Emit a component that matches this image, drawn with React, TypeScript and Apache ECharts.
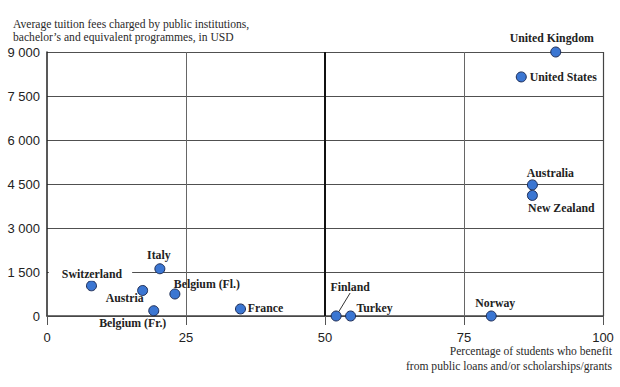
import React, { useEffect, useRef } from "react";
import * as echarts from "echarts";

const countries = [
  "United Kingdom", "United States", "Australia", "New Zealand", "Italy",
  "Switzerland", "Austria", "Belgium (Fl.)", "Belgium (Fr.)", "France",
  "Finland", "Turkey", "Norway",
];
const sharePct = [91.5, 85.3, 87.3, 87.3, 20.3, 8.0, 17.2, 23.0, 19.2, 34.8, 52.0, 54.6, 79.9];
const feesUsd = [9000, 8150, 4470, 4110, 1610, 1030, 870, 750, 180, 240, 0, 0, 0];
const xTicks = [0, 25, 50, 75, 100];
const yTicks = [0, 1500, 3000, 4500, 6000, 7500, 9000];
const titleLines = [
  "Average tuition fees charged by public institutions,",
  "bachelor\u2019s and equivalent programmes, in USD",
];
const xTitleLines = [
  "Percentage of students who benefit",
  "from public loans and/or scholarships/grants",
];

// label offsets (relative to point centre), layout only
const labelOffsets: Record<string, [number, number]> = {
  "United Kingdom": [-4, -14],
  "United States": [42, 0],
  "Australia": [18, -12],
  "New Zealand": [29, 13],
  "Italy": [-1, -14],
  "Switzerland": [-1, -12],
  "Austria": [-18, 8],
  "Belgium (Fl.)": [32, -10],
  "Belgium (Fr.)": [-21, 12],
  "France": [25, -1],
  "Finland": [14, -29],
  "Turkey": [24, -8],
  "Norway": [4, -13],
};

const fmt = (v: number) => {
  const s = String(Math.round(v));
  return s.replace(/\B(?=(\d{3})+(?!\d))/g, " ");
};

export default function App() {
  const ref = useRef<HTMLDivElement>(null);
  useEffect(() => {
    document.body.style.margin = "0";
    if (!ref.current) return;
    const chart = echarts.init(ref.current, null, { renderer: "svg" });
    const data = countries.map((c, i) => {
      const item: any = {
        name: c,
        value: [sharePct[i], feesUsd[i]],
      };
      if (c === "Switzerland") {
        item.label = {
          backgroundColor: "#fff",
          padding: [1, 10, 1, 13],
        };
      }
      if (c === "Finland") {
        item.labelLine = { show: true, lineStyle: { color: "#333", width: 1 } };
      }
      return item;
    });
    chart.setOption({
      animation: false,
      backgroundColor: "#fff",
      title: {
        text: titleLines.join("\n"),
        left: 8,
        top: 13,
        textStyle: {
          fontFamily: "Liberation Serif",
          fontWeight: "normal",
          fontSize: 11.6,
          lineHeight: 13,
          color: "#2a2a2a",
        },
      },
      graphic: [
        {
          type: "text",
          x: 612,
          y: 344,
          style: {
            text: xTitleLines.join("\n"),
            align: "right",
            verticalAlign: "top",
            fontFamily: "Liberation Serif",
            fontSize: 11.6,
            lineHeight: 15,
            fill: "#2a2a2a",
          },
        },
      ],
      grid: { left: 47, right: 17, top: 52, bottom: 71, containLabel: false },
      xAxis: {
        type: "value",
        min: xTicks[0],
        max: xTicks[xTicks.length - 1],
        interval: 25,
        axisLine: { show: true, lineStyle: { color: "#444", width: 1.5 } },
        axisTick: { show: true, length: 9, lineStyle: { color: "#555", width: 1 } },
        splitLine: { show: false },
        axisLabel: {
          margin: 15,
          fontFamily: "Liberation Sans",
          fontSize: 13,
          color: "#222",
        },
      },
      yAxis: {
        type: "value",
        min: yTicks[0],
        max: yTicks[yTicks.length - 1],
        interval: 1500,
        axisLine: { show: true, lineStyle: { color: "#222", width: 1.5 } },
        axisTick: { show: false },
        splitLine: { show: true, lineStyle: { color: "#505050", width: 1.2 } },
        axisLabel: {
          margin: 7,
          fontFamily: "Liberation Sans",
          fontSize: 13,
          color: "#222",
          formatter: (v: number) => fmt(v),
        },
      },
      series: [
        {
          type: "scatter",
          symbolSize: 10,
          itemStyle: { color: "#3b76d2", borderColor: "#1b2b55", borderWidth: 1, opacity: 1 },
          label: {
            show: true,
            position: "inside",
            formatter: "{b}",
            fontFamily: "Liberation Serif",
            fontWeight: "bold",
            fontSize: 11.8,
            color: "#222",
          },
          labelLine: { show: false },
          labelLayout: (p: any) => {
            const off = labelOffsets[countries[p.dataIndex]] || [0, 0];
            return { dx: off[0], dy: off[1] };
          },
          emphasis: { disabled: true },
          data,
          z: 5,
          markLine: {
            silent: true,
            symbol: "none",
            label: { show: false },
            data: [
              { xAxis: 25, lineStyle: { color: "#666", width: 1, type: "solid" } },
              { xAxis: 50, lineStyle: { color: "#111", width: 2, type: "solid" } },
              { xAxis: 75, lineStyle: { color: "#666", width: 1, type: "solid" } },
              { xAxis: 100, lineStyle: { color: "#444", width: 1.2, type: "solid" } },
            ],
          },
        },
      ],
    });
    return () => chart.dispose();
  }, []);
  return <div ref={ref} style={{ width: 620, height: 387 }} />;
}
